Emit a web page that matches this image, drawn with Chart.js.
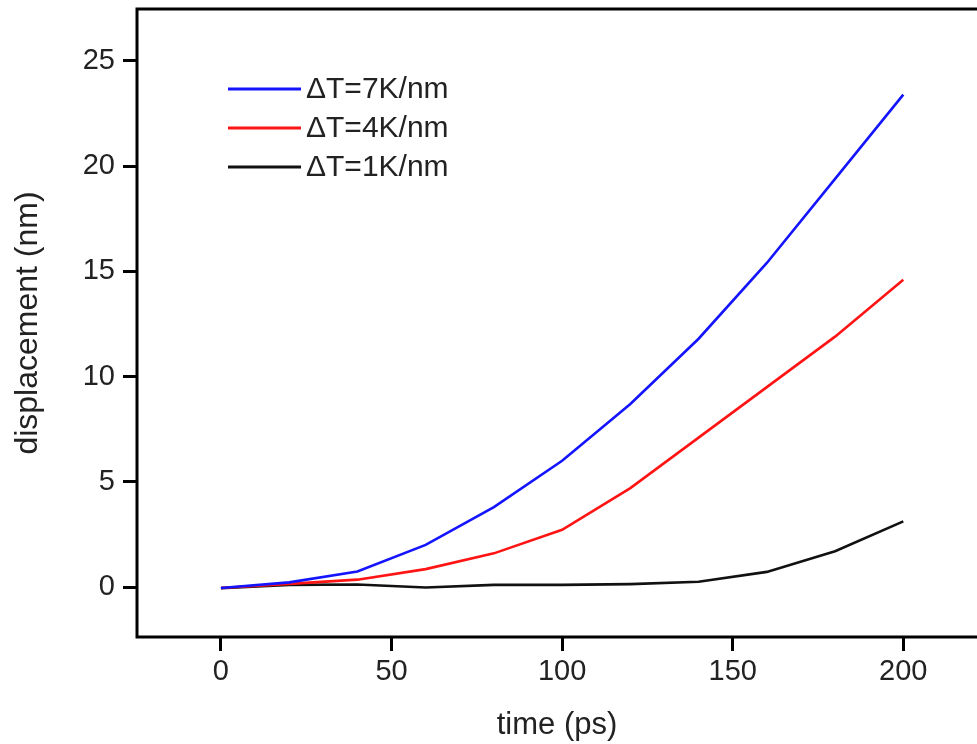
<!DOCTYPE html>
<html lang="en">
<head>
  <meta charset="UTF-8">
  <title>displacement vs time</title>
  <script src="https://cdn.jsdelivr.net/npm/chart.js"></script>
  <style>
    html, body { margin: 0; padding: 0; background: #fff; }
    #wrap { width: 977px; height: 744px; position: relative; }
  </style>
</head>
<body>
  <div id="wrap"><canvas id="dispChart"></canvas></div>

  <script>
    // data
    const times = [0, 20, 40, 60, 80, 100, 120, 140, 160, 180, 200];
    const seriesLabels = ['\u0394T=7K/nm', '\u0394T=4K/nm', '\u0394T=1K/nm'];
    const seriesColors = ['#1414ff', '#ff1414', '#111111'];
    const dT7 = [-0.05, 0.22, 0.74, 2.0, 3.8, 6.0, 8.7, 11.8, 15.4, 19.4, 23.4];
    const dT4 = [-0.05, 0.15, 0.35, 0.85, 1.6, 2.72, 4.7, 7.1, 9.5, 11.9, 14.6];
    const dT1 = [-0.05, 0.1, 0.12, -0.02, 0.1, 0.1, 0.14, 0.25, 0.72, 1.7, 3.12];
    const xTicks = [0, 50, 100, 150, 200];
    const yTicks = [0, 5, 10, 15, 20, 25];

    const seriesValues = [dT7, dT4, dT1];
    const fontFam = '"Liberation Sans", Arial, sans-serif';

    // frame: left, top, bottom (right side runs off the picture)
    const framePlugin = {
      id: 'frame',
      afterDraw(chart) {
        const a = chart.chartArea;
        const ctx = chart.ctx;
        ctx.save();
        ctx.strokeStyle = '#000';
        ctx.lineWidth = 3;
        ctx.beginPath();
        ctx.moveTo(chart.width + 5, a.top);
        ctx.lineTo(a.left, a.top);
        ctx.lineTo(a.left, a.bottom);
        ctx.lineTo(chart.width + 5, a.bottom);
        ctx.stroke();
        ctx.restore();
      }
    };

    // legend in the upper left of the plot, short line + label
    const lineLegend = {
      id: 'lineLegend',
      afterDatasetsDraw(chart) {
        const ctx = chart.ctx;
        ctx.save();
        ctx.font = '30px ' + fontFam;
        ctx.textBaseline = 'middle';
        chart.data.datasets.forEach(function(ds, i) {
          const y = 89 + i * 39;
          ctx.strokeStyle = ds.borderColor;
          ctx.lineWidth = 3;
          ctx.beginPath();
          ctx.moveTo(228, y);
          ctx.lineTo(301, y);
          ctx.stroke();
          ctx.fillStyle = '#222';
          ctx.fillText(ds.label, 306, y + 1);
        });
        ctx.restore();
      }
    };

    const ctx = document.getElementById('dispChart').getContext('2d');
    new Chart(ctx, {
      type: 'line',
      data: {
        datasets: seriesValues.map(function(vals, i) {
          return {
            label: seriesLabels[i],
            data: times.map(function(t, j) { return { x: t, y: vals[j] }; }),
            borderColor: seriesColors[i],
            borderWidth: 2.6,
            pointRadius: 0,
            tension: 0,
            fill: false
          };
        })
      },
      options: {
        responsive: true,
        maintainAspectRatio: false,
        animation: false,
        layout: { padding: { top: 9, right: 0, left: 0, bottom: 0 } },
        plugins: {
          legend: { display: false },
          tooltip: { enabled: false }
        },
        scales: {
          x: {
            type: 'linear',
            min: -24.6,
            max: 221.6,
            afterBuildTicks: function(scale) {
              scale.ticks = xTicks.map(function(v) { return { value: v }; });
            },
            afterFit: function(scale) {
              scale.height = 107;
              scale.paddingLeft = 0;
              scale.paddingRight = 0;
            },
            grid: {
              drawOnChartArea: false,
              drawTicks: true,
              tickLength: 14,
              tickWidth: 3,
              tickColor: '#000'
            },
            border: { display: false },
            ticks: {
              color: '#222',
              font: { family: fontFam, size: 29 },
              padding: 4,
              maxRotation: 0
            },
            title: {
              display: true,
              text: 'time (ps)',
              color: '#222',
              font: { family: fontFam, size: 31 },
              padding: { top: 4, bottom: 0 }
            }
          },
          y: {
            type: 'linear',
            min: -2.375,
            max: 27.47,
            afterBuildTicks: function(scale) {
              scale.ticks = yTicks.map(function(v) { return { value: v }; });
            },
            afterFit: function(scale) {
              scale.width = 137;
              scale.paddingTop = 0;
              scale.paddingBottom = 0;
            },
            grid: {
              drawOnChartArea: false,
              drawTicks: true,
              tickLength: 14,
              tickWidth: 3,
              tickColor: '#000'
            },
            border: { display: false },
            ticks: {
              color: '#222',
              font: { family: fontFam, size: 29 },
              padding: 8
            },
            title: {
              display: true,
              text: 'displacement (nm)',
              color: '#222',
              font: { family: fontFam, size: 32 },
              padding: { top: 9, bottom: 0 }
            }
          }
        }
      },
      plugins: [framePlugin, lineLegend]
    });
  </script>
</body>
</html>
